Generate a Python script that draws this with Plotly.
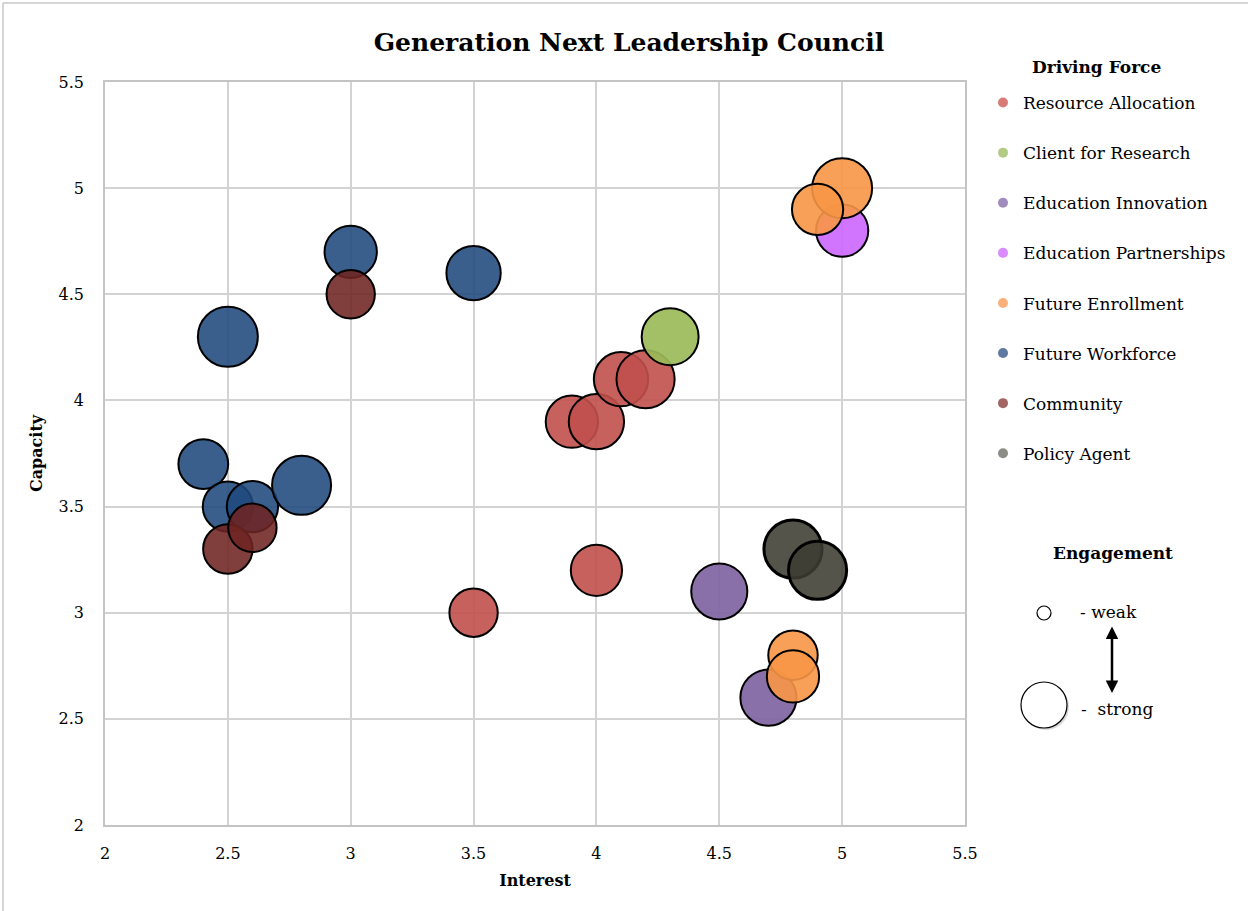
import plotly.graph_objects as go

# ---------------- data ----------------
series_names = ["Resource Allocation", "Client for Research", "Education Innovation",
                "Education Partnerships", "Future Enrollment", "Future Workforce",
                "Community", "Policy Agent"]

ra_x = [3.9, 4.0, 4.1, 4.2, 3.5, 4.0]
ra_y = [3.9, 3.9, 4.1, 4.1, 3.0, 3.2]
ra_e = [7.6, 8.5, 8.2, 9.4, 6.5, 7.3]

cr_x = [4.3]
cr_y = [4.3]
cr_e = [9.0]

ei_x = [4.5, 4.7]
ei_y = [3.1, 2.6]
ei_e = [8.75, 8.75]

ep_x = [5.0]
ep_y = [4.8]
ep_e = [7.6]

fe_x = [5.0, 4.9, 4.8, 4.8]
fe_y = [5.0, 4.9, 2.8, 2.7]
fe_e = [10.0, 7.3, 6.8, 7.6]

fw_x = [3.0, 3.5, 2.5, 2.4, 2.5, 2.6, 2.8]
fw_y = [4.7, 4.6, 4.3, 3.7, 3.5, 3.5, 3.6]
fw_e = [7.6, 8.2, 10.0, 6.9, 7.0, 7.3, 9.7]

co_x = [3.0, 2.5, 2.6]
co_y = [4.5, 3.3, 3.4]
co_e = [6.5, 6.8, 6.5]

pa_x = [4.8, 4.9]
pa_y = [3.3, 3.2]
pa_e = [9.4, 9.4]

x_ticks = [2, 2.5, 3, 3.5, 4, 4.5, 5, 5.5]
y_ticks = [2, 2.5, 3, 3.5, 4, 4.5, 5, 5.5]

# ---------------- styles ----------------
fills = ["rgba(192,80,77,0.9)", "rgba(155,187,89,0.92)", "rgba(128,100,162,0.92)",
         "rgba(204,102,255,0.9)", "rgba(247,150,70,0.9)", "rgba(31,73,125,0.88)",
         "rgba(110,36,34,0.88)", "rgba(60,60,50,0.88)"]
legend_cols = ["#d87b78", "#b3cc84", "#a08bbd", "#d98cff", "#f9b07a", "#5f7aa0",
               "#a06664", "#8c8c86"]
line_w = [2, 2, 2, 2, 2, 2, 2, 3]

data = [(ra_x, ra_y, ra_e), (cr_x, cr_y, cr_e), (ei_x, ei_y, ei_e), (ep_x, ep_y, ep_e),
        (fe_x, fe_y, fe_e), (fw_x, fw_y, fw_e), (co_x, co_y, co_e), (pa_x, pa_y, pa_e)]

FONT = "DejaVu Serif"
fig = go.Figure()

for name, (xs, ys, es), col, lw in zip(series_names, data, fills, line_w):
    fig.add_trace(go.Scatter(
        x=xs, y=ys, mode="markers", name=name, showlegend=False,
        marker=dict(size=list(es), sizemode="area", sizeref=0.00556,
                    color=col, line=dict(color="black", width=lw), opacity=1),
        hovertemplate=name + "<br>Interest %{x}<br>Capacity %{y}<extra></extra>"))

for i, (name, col) in enumerate(zip(series_names, legend_cols)):
    fig.add_trace(go.Scatter(
        x=[None], y=[None], mode="markers", name=name, legendgroup="g%d" % i,
        marker=dict(size=10, color=col, line=dict(width=0))))

W, H = 1248, 911
L, R, T, B = 105, 965, 82, 825


def px(xp):
    return (xp - L) / (R - L)


def py(yp):
    return (B - yp) / (B - T)


fig.update_layout(
    width=W, height=H,
    margin=dict(l=L, r=W - R, t=T, b=H - B),
    paper_bgcolor="white", plot_bgcolor="white",
    font=dict(family=FONT, size=16, color="black"),
    title=dict(text="<b>Generation Next Leadership Council</b>",
               x=px(629), xref="paper", xanchor="center",
               y=1 - 42 / H, yref="container", yanchor="middle",
               font=dict(family=FONT, size=25, color="black")),
    xaxis=dict(range=[2, 5.5], tickvals=x_ticks, ticktext=[str(v) for v in x_ticks],
               showgrid=True, gridcolor="#d3d3d3", gridwidth=1.5,
               showline=True, linecolor="#c4c4c4", linewidth=1.5, mirror=True,
               zeroline=False, ticks="", ticklabelstandoff=13,
               tickfont=dict(family=FONT, size=16),
               title=dict(text="<b>Interest</b>", standoff=13,
                          font=dict(family=FONT, size=16))),
    yaxis=dict(range=[2, 5.5], tickvals=y_ticks, ticktext=[str(v) for v in y_ticks],
               showgrid=True, gridcolor="#d3d3d3", gridwidth=1.5,
               showline=True, linecolor="#c4c4c4", linewidth=1.5, mirror=True,
               zeroline=False, ticks="", ticklabelstandoff=16,
               tickfont=dict(family=FONT, size=16),
               title=dict(text="<b>Capacity</b>", standoff=12,
                          font=dict(family=FONT, size=16))),
    legend=dict(x=px(983), xanchor="left", y=py(85), yanchor="top",
                font=dict(family=FONT, size=17),
                tracegroupgap=25, itemwidth=30, traceorder="grouped",
                bgcolor="rgba(0,0,0,0)"),
)

fig.add_annotation(xref="paper", yref="paper", x=px(1096), y=py(67), text="<b>Driving Force</b>",
                   showarrow=False, font=dict(family=FONT, size=17), xanchor="center", yanchor="middle")

# chart frame (left and top edges)
fig.add_shape(type="line", xref="paper", yref="paper", x0=px(3), x1=px(3), y0=py(3), y1=py(H + 5),
              line=dict(color="#c8c8c8", width=1.5))
fig.add_shape(type="line", xref="paper", yref="paper", x0=px(3), x1=px(W + 5), y0=py(3), y1=py(3),
              line=dict(color="#c8c8c8", width=1.5))

# Engagement size key
fig.add_annotation(xref="paper", yref="paper", x=px(1113), y=py(553), text="<b>Engagement</b>",
                   showarrow=False, font=dict(family=FONT, size=17), xanchor="center", yanchor="middle")
fig.add_shape(type="circle", xref="paper", yref="paper",
              x0=px(1037), x1=px(1051), y0=py(620), y1=py(606),
              line=dict(color="black", width=1.2), fillcolor="white")
fig.add_shape(type="circle", xref="paper", yref="paper",
              x0=px(1023), x1=px(1069), y0=py(730), y1=py(684),
              line=dict(color="rgba(0,0,0,0)", width=0), fillcolor="rgba(0,0,0,0.15)")
fig.add_shape(type="circle", xref="paper", yref="paper",
              x0=px(1021), x1=px(1067), y0=py(728), y1=py(682),
              line=dict(color="black", width=1.2), fillcolor="white")
fig.add_annotation(xref="paper", yref="paper", x=px(1078), y=py(612), text="- weak",
                   showarrow=False, font=dict(family=FONT, size=17), xanchor="left", yanchor="middle")
fig.add_annotation(xref="paper", yref="paper", x=px(1079), y=py(709), text="-  strong",
                   showarrow=False, font=dict(family=FONT, size=17), xanchor="left", yanchor="middle")
fig.add_annotation(xref="paper", yref="paper", x=px(1112), y=py(693), ax=0, ay=-68,
                   text="", showarrow=True, arrowhead=2, arrowside="end+start",
                   arrowsize=1, arrowwidth=2.5, arrowcolor="black")

fig.write_html("out.html")
